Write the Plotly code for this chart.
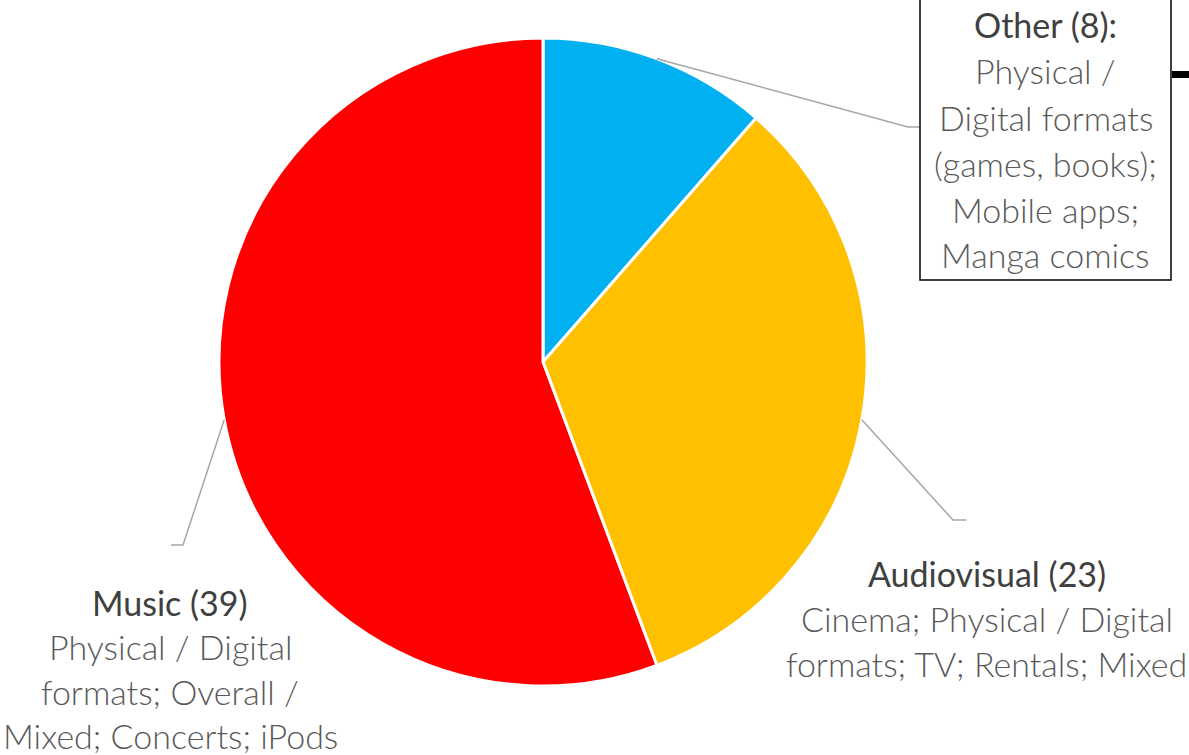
import math
import plotly.graph_objects as go

W, H = 1189, 755

# ---- data ----
categories = ["Other", "Audiovisual", "Music"]
counts = [8, 23, 39]
colors = ["#00B0F0", "#FFC000", "#FF0000"]
label_titles = ["Other (8):", "Audiovisual (23)", "Music (39)"]
label_details = [
    ["Physical /", "Digital formats", "(games, books);", "Mobile apps;", "Manga comics"],
    ["Cinema; Physical / Digital", "formats; TV; Rentals; Mixed"],
    ["Physical / Digital", "formats; Overall /", "Mixed; Concerts; iPods"],
]

# ---- layout geometry (pixels) ----
CX, CY, R = 543, 362, 324


def px(x):
    return x / W


def py(y):
    return 1 - y / H


fig = go.Figure(
    go.Pie(
        labels=categories,
        values=counts,
        marker=dict(colors=colors, line=dict(color="white", width=3)),
        sort=False,
        direction="clockwise",
        rotation=0,
        textinfo="none",
        hoverinfo="label+value",
        showlegend=False,
        domain=dict(x=[px(CX - R), px(CX + R)], y=[py(CY + R), py(CY - R)]),
    )
)

# leader lines from slice mid-angles
total = sum(counts)
cum = 0
mid_pts = []
for v in counts:
    ang = (cum + v / 2) / total * 2 * math.pi
    cum += v
    mid_pts.append((CX + R * math.sin(ang), CY - R * math.cos(ang)))

leader_ends = [
    [(908, 127), (920, 127)],
    [(953, 520), (966, 520)],
    [(183, 545), (171, 545)],
]
shapes = []
for (sx, sy), pts in zip(mid_pts, leader_ends):
    path_pts = [(sx, sy)] + pts
    d = "M " + " L ".join(f"{px(x)},{py(y)}" for x, y in path_pts)
    shapes.append(dict(type="path", path=d, xref="paper", yref="paper",
                       line=dict(color="#A6A6A6", width=1.5)))

# box around "Other" label (top cut off)
shapes.append(dict(type="rect", xref="paper", yref="paper",
                   x0=px(920), x1=px(1171), y0=py(280), y1=py(-20),
                   line=dict(color="#000000", width=1.5), fillcolor="rgba(0,0,0,0)"))
# thick black connector stub at right edge
shapes.append(dict(type="line", xref="paper", yref="paper",
                   x0=px(1172), x1=px(1195), y0=py(74.5), y1=py(74.5),
                   line=dict(color="#000000", width=7)))

# text labels
FONT = "Lato, 'Open Sans', sans-serif"
FS = 34
label_pos = [(1045.5, 25, 46), (987, 573, 45), (170, 602, 44.5)]
annotations = []
for title, details, (lx, ly, step) in zip(label_titles, label_details, label_pos):
    annotations.append(dict(x=px(lx), y=py(ly), xref="paper", yref="paper",
                            text=title, showarrow=False, xanchor="center", yanchor="middle",
                            font=dict(family=FONT, size=FS, color="#404040")))
    for i, line in enumerate(details):
        annotations.append(dict(x=px(lx), y=py(ly + step * (i + 1)), xref="paper", yref="paper",
                                text=line, showarrow=False, xanchor="center", yanchor="middle",
                                font=dict(family=FONT, size=FS, color="#595959", weight=300)))

fig.update_layout(
    width=W, height=H,
    margin=dict(l=0, r=0, t=0, b=0),
    paper_bgcolor="white", plot_bgcolor="white",
    shapes=shapes, annotations=annotations,
)

fig.write_html(
    "out.html",
    config={"displayModeBar": False},
    post_script="document.body.style.margin='0';document.body.style.overflow='hidden';",
)
